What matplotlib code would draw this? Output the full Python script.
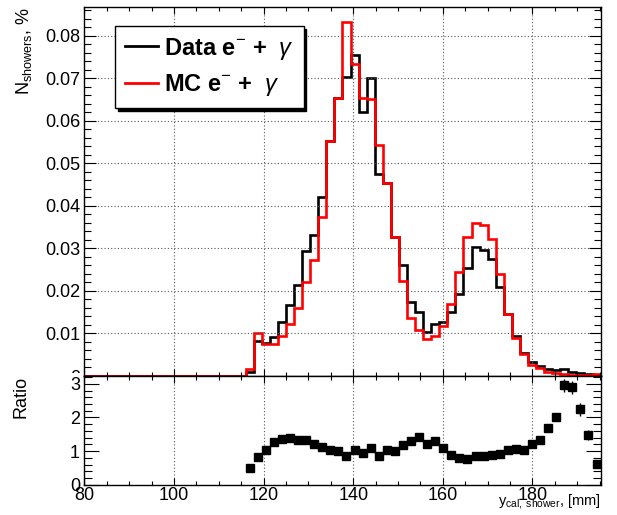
import matplotlib
matplotlib.use('Agg')
import matplotlib.pyplot as plt
from matplotlib.lines import Line2D
from matplotlib.patches import Rectangle
from matplotlib.ticker import MultipleLocator, FuncFormatter

import numpy as np

# binning of the shower position histogram
bin_low = 80.0
bin_width = 1.8
n_bins = 64
first_bin = 20

# normalised shower counts, bins 20..63 (in %)
data_values = [0.0009, 0.0082, 0.0077, 0.0092, 0.0127, 0.0166, 0.0213, 0.0294, 0.0332, 0.0420,
               0.0553, 0.0653, 0.0704, 0.0755, 0.0620, 0.0700, 0.0475, 0.0455, 0.0326, 0.0260,
               0.0173, 0.0151, 0.0104, 0.0122, 0.0127, 0.0151, 0.0192, 0.0253, 0.0304, 0.0297,
               0.0276, 0.0210, 0.0147, 0.0093, 0.0054, 0.0034, 0.0024, 0.0017, 0.0013, 0.0016,
               0.0010, 0.0007, 0.0005, 0.0003]
mc_values = [0.0017, 0.0102, 0.0075, 0.0075, 0.0094, 0.0123, 0.0161, 0.0221, 0.0273, 0.0373,
             0.0553, 0.0653, 0.0832, 0.0735, 0.0655, 0.0651, 0.0544, 0.0455, 0.0326, 0.0223,
             0.0137, 0.0108, 0.0086, 0.0094, 0.0118, 0.0169, 0.0245, 0.0326, 0.0359, 0.0355,
             0.0323, 0.0241, 0.0147, 0.0090, 0.0052, 0.0027, 0.0018, 0.0010, 0.00065, 0.00055,
             0.00035, 0.0003, 0.00033, 0.00045]

# data / MC ratio for the same bins
ratio_values = [0.49, 0.83, 1.03, 1.26, 1.36, 1.39, 1.33, 1.33, 1.21, 1.13,
                1.03, 1.01, 0.85, 1.03, 0.95, 1.10, 0.87, 1.03, 1.01, 1.19,
                1.29, 1.42, 1.21, 1.29, 1.10, 0.90, 0.80, 0.77, 0.85, 0.85,
                0.88, 0.91, 1.03, 1.08, 1.03, 1.21, 1.34, 1.70, 2.02, 2.95,
                2.89, 2.24, 1.49, 0.63]
ratio_errors = [0.06, 0.05, 0.05, 0.05, 0.04, 0.04, 0.03, 0.03, 0.03, 0.02,
                0.02, 0.02, 0.02, 0.02, 0.02, 0.02, 0.02, 0.02, 0.02, 0.03,
                0.03, 0.04, 0.04, 0.04, 0.04, 0.03, 0.03, 0.02, 0.02, 0.02,
                0.02, 0.02, 0.03, 0.04, 0.05, 0.07, 0.08, 0.10, 0.10, 0.18,
                0.20, 0.20, 0.15, 0.10]

x_ticks = [80, 100, 120, 140, 160, 180]
legend_labels = ['Data e$^{-}$ +  $\\gamma$', 'MC e$^{-}$ +  $\\gamma$']
series_colors = ['black', 'red']

PX = 1 / 1.389  # points per pixel at 100 dpi
FS = 13


def full_hist(values):
    h = np.zeros(n_bins)
    h[first_bin:first_bin + len(values)] = values
    return h


def style_axis(ax, ymajor, yminor, ylen, ylen_minor):
    ax.set_xlim(bin_low, bin_low + n_bins * bin_width)
    ax.xaxis.set_major_locator(MultipleLocator(20))
    ax.xaxis.set_minor_locator(MultipleLocator(5))
    ax.yaxis.set_major_locator(MultipleLocator(ymajor))
    ax.yaxis.set_minor_locator(MultipleLocator(yminor))
    ax.tick_params(which='both', direction='in', top=True, right=True, width=0.8,
                   labelsize=FS)
    ax.tick_params(axis='x', which='major', length=7 * PX, pad=1.5)
    ax.tick_params(axis='x', which='minor', length=4 * PX)
    ax.tick_params(axis='y', which='major', length=ylen * PX, pad=3)
    ax.tick_params(axis='y', which='minor', length=ylen_minor * PX)
    for spine in ax.spines.values():
        spine.set_linewidth(1.0)


def main():
    plt.rcParams['font.family'] = ['Liberation Sans', 'DejaVu Sans']
    plt.rcParams['mathtext.fontset'] = 'custom'
    plt.rcParams['mathtext.rm'] = 'Liberation Sans'
    plt.rcParams['mathtext.it'] = 'Liberation Sans:italic'
    plt.rcParams['mathtext.bf'] = 'Liberation Sans:bold'

    edges = bin_low + bin_width * np.arange(n_bins + 1)
    centers = 0.5 * (edges[:-1] + edges[1:])
    ratio_x = centers[first_bin:first_bin + len(ratio_values)]

    fig = plt.figure(figsize=(6.17, 5.15), dpi=100)
    ax = fig.add_axes([0.1366, 0.2699, 0.8368, 0.7165])
    # lower pad hides the bottom of the upper "0" label, like the ROOT pad
    fig.add_artist(Rectangle((0, 0), 0.133, 0.2757, transform=fig.transFigure,
                             facecolor='white', edgecolor='none', zorder=0.5))
    ax2 = fig.add_axes([0.1366, 0.0583, 0.8368, 0.2116])
    ax2.set_zorder(1)

    grid_style = dict(color='#555555', linestyle=(0, (1, 2)), linewidth=0.8)

    # top panel: histograms
    ax.stairs(full_hist(data_values), edges, color=series_colors[0], linewidth=1.9)
    ax.stairs(full_hist(mc_values), edges, color=series_colors[1], linewidth=1.9)
    style_axis(ax, 0.01, 0.002, 12, 7)
    ax.set_ylim(0, 0.0868)
    ax.yaxis.set_major_formatter(FuncFormatter(lambda v, p: '0' if abs(v) < 1e-9 else f'{v:.2f}'))
    ax.tick_params(axis='x', labelbottom=False)
    ax.grid(True, which='major', **grid_style)
    ax.set_ylabel('N$_{\\mathrm{showers}}$, %', loc='top', fontsize=FS)
    ax.yaxis.set_label_coords(-0.098, 1.0)

    handles = [Line2D([], [], color=c, linewidth=2) for c in series_colors]
    leg = ax.legend(handles, legend_labels, loc='upper left', bbox_to_anchor=(0.0595, 0.949),
                    prop={'weight': 'bold', 'size': 17}, frameon=True, fancybox=False,
                    edgecolor='black', framealpha=1, shadow={'color': 'black', 'alpha': 1.0},
                    borderaxespad=0, handlelength=1.4, handletextpad=0.25,
                    borderpad=0.42, labelspacing=0.45)
    leg.get_frame().set_linewidth(1.0)

    # bottom panel: ratio
    ax2.errorbar(ratio_x, ratio_values, yerr=ratio_errors, fmt='s', color='black',
                 markersize=6, elinewidth=1, capsize=0)
    style_axis(ax2, 1, 0.2, 15, 8)
    ax2.set_ylim(0, 3.23)
    ax2.set_xticks(x_ticks)
    ax2.grid(True, axis='x', which='major', **grid_style)
    ax2.set_ylabel('Ratio', loc='top', fontsize=FS)
    ax2.yaxis.set_label_coords(-0.107, 1.0)
    ax2.set_xlabel('y$_{\\mathrm{cal,\\ shower}}$, [mm]', loc='right', fontsize=10.5)
    ax2.xaxis.set_label_coords(1.0, -0.06)

    fig.savefig('out.png', dpi=100)


if __name__ == "__main__":
    main()
